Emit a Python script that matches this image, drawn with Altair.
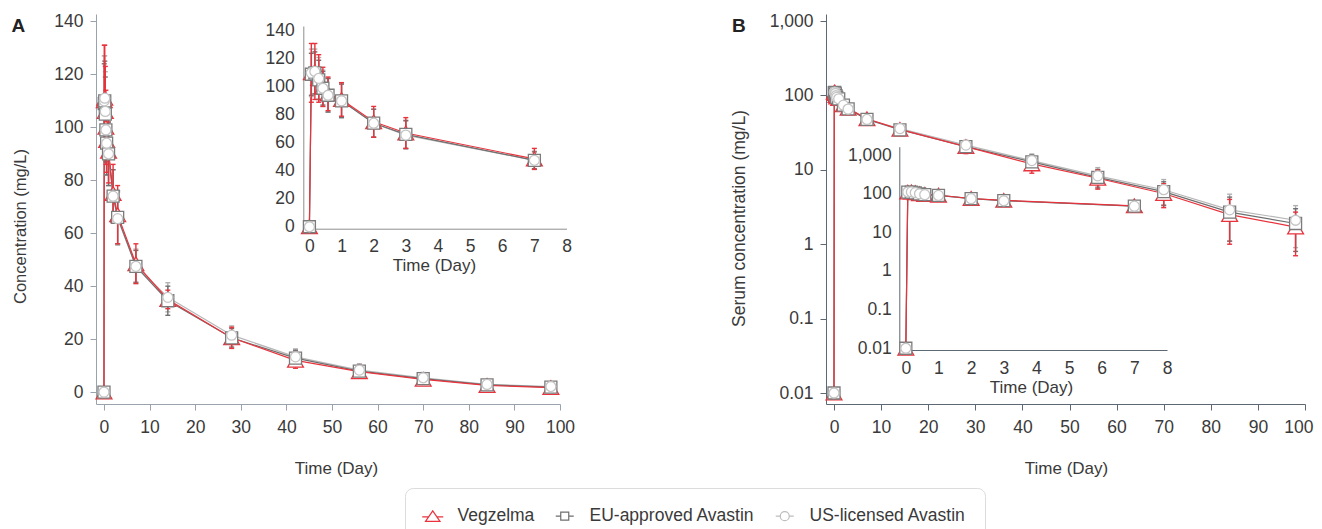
import altair as alt
import pandas as pd

# ---------------- data ----------------
series = ["Vegzelma", "EU-approved Avastin", "US-licensed Avastin"]
times = [0, 0.06, 0.17, 0.29, 0.42, 0.58, 1, 2, 3, 7, 14, 28, 42, 56, 70, 84, 98]
veg_mean = [0, 110, 111, 106, 100, 95, 91, 75, 67, 48.5, 35, 20.5, 12, 7.7, 4.8, 2.5, 1.7]
veg_sd = [0, 21, 20, 17, 14, 12, 12, 11, 11, 7.5, 3.5, 4, 3, 2.2, 1.7, 1.5, 1.0]
eu_mean = [0, 109, 110, 105, 99, 94, 90, 74, 66, 47.5, 34.5, 20.5, 12.8, 7.9, 5.1, 2.7, 1.9]
eu_sd = [0, 15, 15, 14, 12, 12, 12, 10, 10, 6, 5.5, 3.5, 3, 2.2, 1.8, 1.6, 1.1]
us_mean = [0, 110, 111, 106, 99, 94, 90, 74, 65.5, 47.5, 35.8, 21.5, 13.3, 8.3, 5.4, 2.9, 2.1]
us_sd = [0, 17, 16, 15, 13, 12, 12, 10, 10, 6.5, 5.5, 3.5, 3, 2.4, 2, 1.8, 1.2]

lin_ticks = [0, 20, 40, 60, 80, 100, 120, 140]
log_ticks = [0.01, 0.1, 1, 10, 100, 1000]
day_ticks = [0, 10, 20, 30, 40, 50, 60, 70, 80, 90, 100]
inset_day_ticks = [0, 1, 2, 3, 4, 5, 6, 7, 8]

LOG_FLOOR = 0.01      # predose plotted at 0.01 on the log panels
LOG_MIN = 0.0075

rows = []
for s, means, sds in zip(series, [veg_mean, eu_mean, us_mean], [veg_sd, eu_sd, us_sd]):
    for t, m, sd in zip(times, means, sds):
        rows.append(dict(
            series=s, time=t, mean=m, sd=sd, lo=m - sd, hi=m + sd,
            lmean=m if m > 0 else LOG_FLOOR,
            llo=max(m - sd, LOG_MIN) if m > 0 else LOG_FLOOR,
            lhi=m + sd if m > 0 else LOG_FLOOR,
        ))
df = pd.DataFrame(rows)

# ---------------- style ----------------
W, H = 1306, 521
FONT = "Liberation Sans"
TXT = "#3a3a3a"
line_col = {"Vegzelma": "#e8333c", "EU-approved Avastin": "#6e6e6e", "US-licensed Avastin": "#b7b7b7"}
bar_col = {"Vegzelma": "#e8333c", "EU-approved Avastin": "#707070", "US-licensed Avastin": "#b0b0b0"}
pt_style = {
    "Vegzelma": dict(shape="triangle-up", size=250, stroke="#e8333c"),
    "EU-approved Avastin": dict(shape="square", size=144, stroke="#7b7b7b"),
    "US-licensed Avastin": dict(shape="circle", size=100, stroke="#c4c4c4"),
}
line_order = ["US-licensed Avastin", "EU-approved Avastin", "Vegzelma"]


def axis(**kw):
    base = dict(grid=False, labelFont=FONT, labelFontSize=17.5, labelColor=TXT,
                titleFont=FONT, titleFontSize=17, titleFontWeight="normal",
                titleColor=TXT, labelFlush=False, labelOverlap=False,
                domainWidth=1, tickWidth=1)
    base.update(kw)
    return alt.Axis(**base)


def system(xsc, ysc, xax, yax, ym, ylo, yhi, tmax=None):
    X = alt.X("time:Q", scale=xsc, axis=xax)

    def Y(f):
        return alt.Y(f"{f}:Q", scale=ysc, axis=yax)

    def base(s, bars=False):
        c = alt.Chart().transform_filter(alt.datum.series == s)
        if tmax is not None:
            c = c.transform_filter(alt.datum.time <= tmax)
        if bars:
            c = c.transform_filter(alt.datum.sd > 0)
        return c

    layers = []
    for s in line_order:
        layers.append(base(s).mark_line(color=line_col[s], strokeWidth=1.2)
                      .encode(x=X, y=Y(ym)))
    for s in line_order:
        layers.append(base(s, True).mark_rule(color=bar_col[s], strokeWidth=1.4)
                      .encode(x=X, y=Y(ylo), y2=alt.Y2(f"{yhi}:Q")))
        for f in (ylo, yhi):
            layers.append(base(s, True).mark_tick(color=bar_col[s], orient="horizontal",
                                                  size=5, thickness=1.4, opacity=1)
                          .encode(x=X, y=Y(f)))
    for s in series:
        st = pt_style[s]
        layers.append(base(s).mark_point(shape=st["shape"], size=st["size"], filled=True,
                                         fill="white", stroke=st["stroke"], strokeWidth=1.3,
                                         opacity=1)
                      .encode(x=X, y=Y(ym)))
    return alt.layer(*layers)


# ---- panel A main ----
A_AX = "#9aa2ab"
sysA = system(
    alt.Scale(domain=[-1.75, 100], range=[88, 552], nice=False, zero=False),
    alt.Scale(domain=[-4.5, 142.8], range=[396, 6], nice=False, zero=False),
    axis(orient="bottom", offset=396 - H, values=day_ticks, title="Time (Day)",
         domainColor=A_AX, tickColor=A_AX, tickSize=6, labelPadding=8,
         titleX=328, titleY=64, titleBaseline="middle"),
    axis(orient="left", offset=-88, values=lin_ticks, title="Concentration (mg/L)",
         domainColor=A_AX, tickColor=A_AX, tickSize=6, labelPadding=7,
         titleX=-76, titleY=218, titleBaseline="middle", titleFontSize=16.5),
    "mean", "lo", "hi")

# ---- panel A inset ----
IA_AX = "#8e8e8e"
sysIA = system(
    alt.Scale(domain=[-0.19, 8], range=[295.3, 558.5], nice=False, zero=False),
    alt.Scale(domain=[-1.4, 143.5], range=[220.7, 18], nice=False, zero=False),
    axis(orient="bottom", offset=220.7 - H, values=inset_day_ticks, title="Time (Day)",
         domainColor=IA_AX, ticks=False, tickSize=0, labelPadding=9,
         titleX=426, titleY=37, titleBaseline="middle"),
    axis(orient="left", offset=-295.3, values=lin_ticks, title=None,
         domainColor=IA_AX, ticks=False, tickSize=0, labelPadding=9),
    "mean", "lo", "hi", tmax=7)

# ---- panel B main ----
B_AX = "#5d6873"
sysB = system(
    alt.Scale(domain=[-1.7, 100], range=[818, 1297], nice=False, zero=False),
    alt.Scale(type="log", domain=[0.00712, 1242], range=[396, 6], nice=False),
    axis(orient="bottom", offset=396 - H, values=day_ticks, title="Time (Day)",
         domainColor=B_AX, tickColor=B_AX, tickSize=6, labelPadding=8,
         titleX=1058, titleY=64, titleBaseline="middle",
         labelFlush=1, labelFlushOffset=8),
    axis(orient="left", offset=-818, values=log_ticks, format=",",
         title="Serum concentration (mg/L)",
         domainColor=B_AX, tickColor=B_AX, tickSize=6, labelPadding=7,
         titleX=-87, titleY=210, titleBaseline="middle", titleFontSize=17.5),
    "lmean", "llo", "lhi")

# ---- panel B inset ----
sysIB = system(
    alt.Scale(domain=[-0.2, 8], range=[891.3, 1159], nice=False, zero=False),
    alt.Scale(type="log", domain=[0.009, 1640], range=[342, 138.7], nice=False),
    axis(orient="bottom", offset=342 - H, values=inset_day_ticks, title="Time (Day)",
         domainColor=B_AX, ticks=False, tickSize=0, labelPadding=9,
         titleX=1023, titleY=37.7, titleBaseline="middle"),
    axis(orient="left", offset=-891.3, values=log_ticks, format=",", title=None,
         domainColor=B_AX, ticks=False, tickSize=0, labelPadding=8),
    "lmean", "llo", "lhi", tmax=7)

# ---- legend (symbol-only layer) ----
legend_paths = [
    "M-2.1,0.15H-0.83M0.83,0.15H2.1M0,-1.05L1.45,1.05L-1.45,1.05Z",
    "M-1.8,0H-0.8M0.8,0H1.8M-0.8,-0.8H0.8V0.8H-0.8Z",
    "M-1.8,0H-0.9M0.9,0H1.8M-0.9,0A0.9,0.9,0,1,1,0.9,0A0.9,0.9,0,1,1,-0.9,0Z",
]
legend_colors = ["#e8333c", "#6e6e6e", "#bdbdbd"]
leg = alt.Legend(orient="none", legendX=397, legendY=480, direction="horizontal",
                 title=None, labelFont=FONT, labelFontSize=17.5, labelColor=TXT,
                 labelLimit=400,
                 symbolSize=100, symbolStrokeWidth=1.2, symbolOpacity=1,
                 strokeColor="#dcdcdc", cornerRadius=8, padding=19,
                 labelOffset=16, columnPadding=18, fillColor="white")
legend_layer = alt.Chart(pd.DataFrame({"series": series})).mark_point(
    opacity=0, filled=False).encode(
    color=alt.Color("series:N", scale=alt.Scale(domain=series, range=legend_colors),
                    legend=leg, sort=series),
    shape=alt.Shape("series:N", scale=alt.Scale(domain=series, range=legend_paths),
                    legend=leg, sort=series),
)

# ---- panel letters ----
textA = alt.Chart(pd.DataFrame({"panel": ["A"]})).mark_text(
    align="left", baseline="alphabetic", font=FONT, fontSize=19, fontWeight="bold",
    color="#222222").encode(text="panel:N", x=alt.value(3.5), y=alt.value(24))
textB = alt.Chart(pd.DataFrame({"panel": ["B"]})).mark_text(
    align="left", baseline="alphabetic", font=FONT, fontSize=19, fontWeight="bold",
    color="#222222").encode(text="panel:N", x=alt.value(724), y=alt.value(24))

chart = alt.layer(sysA, sysIA, sysB, sysIB, legend_layer, textA, textB, data=df).resolve_scale(
    x="independent", y="independent"
).properties(
    width=W, height=H,
    autosize=alt.AutoSizeParams(type="none"),
    padding={"left": 0, "top": 0, "right": 0, "bottom": 0},
).configure_view(stroke=None)

chart.save("out.html", embed_options={"renderer": "svg", "actions": False})
